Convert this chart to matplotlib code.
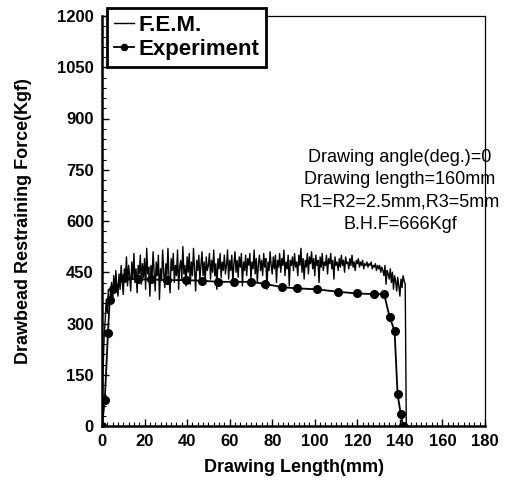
import matplotlib
matplotlib.use("Agg")
from matplotlib import pyplot as plt
from matplotlib.ticker import MultipleLocator
import numpy as np

plt.rcParams['font.family'] = ['Liberation Sans', 'DejaVu Sans']

# experiment (measured points)
exp_x = [0, 1.3, 2.8, 3.6, 5.0, 10.4, 17.1, 23.1, 30.7, 39.7, 47.2, 54.7, 62.2,
         69.8, 76.5, 84.8, 91.6, 101.0, 110.8, 119.7, 127.7, 132.6, 135.2,
         137.5, 138.9, 140.4, 141.5]
exp_y = [0, 76, 271, 369, 400, 432, 429, 429, 427, 427, 425, 422, 422,
         422, 416, 406, 403, 400, 393, 388, 386, 386, 318,
         279, 94, 35, 0]

# F.E.M. result, read every 0.5 mm
fem_y = [
    0, 160, 260, 310, 370, 330, 400, 350, 380, 420, 360, 440, 390, 455, 410, 380, 445, 400, 470, 420,
    385, 460, 430, 495, 410, 470, 440, 395, 480, 430, 505, 420, 460, 390, 470, 445, 500, 415, 475, 435,
    490, 400, 520, 445, 465, 380, 470, 430, 510, 455, 395, 480, 440, 500, 370, 460, 425, 515, 450, 405,
    475, 440, 520, 430, 390, 490, 455, 505, 420, 470, 440, 515, 400, 465, 485, 430, 525, 445, 470, 410,
    495, 450, 505, 415, 480, 440, 520, 460, 395, 485, 455, 500, 430, 470, 510, 440, 480, 420, 495, 455,
    470, 505, 430, 485, 450, 515, 440, 475, 400, 490, 460, 505, 435, 480, 455, 500, 445, 470, 515, 430,
    485, 455, 500, 420, 475, 510, 450, 485, 435, 495, 465, 505, 410, 480, 455, 500, 440, 490, 470, 505,
    430, 480, 460, 515, 445, 490, 420, 475, 500, 455, 485, 440, 505, 465, 490, 400, 480, 455, 510, 470,
    445, 495, 460, 500, 420, 485, 465, 505, 450, 490, 470, 515, 440, 480, 460, 500, 410, 485, 470, 495,
    455, 505, 465, 480, 440, 500, 470, 520, 450, 490, 430, 485, 465, 505, 445, 495, 475, 510, 460, 490,
    440, 500, 470, 485, 420, 495, 465, 505, 455, 480, 470, 500, 445, 490, 475, 505, 460, 485, 430, 495,
    470, 480, 455, 490, 465, 500, 470, 485, 450, 495, 475, 480, 460, 490, 470, 500, 465, 480, 455, 485,
    475, 490, 465, 480, 470, 485, 460, 475, 470, 480, 465, 475, 470, 480, 460, 470, 465, 475, 455, 470,
    460, 470, 450, 465, 455, 440, 470, 415, 455, 445, 430, 460, 420, 450, 400, 440, 425, 395, 435, 410,
    380, 430, 405, 440, 425, 415, 10, 0, 0,
]
fem_x = np.arange(len(fem_y)) * 0.5

x_ticks = [0, 20, 40, 60, 80, 100, 120, 140, 160, 180]
y_ticks = [0, 150, 300, 450, 600, 750, 900, 1050, 1200]

info = ("Drawing angle(deg.)=0\nDrawing length=160mm\n"
        "R1=R2=2.5mm,R3=5mm\nB.H.F=666Kgf")

fig = plt.figure(figsize=(5.25, 4.97), dpi=100)
ax = fig.add_axes([102/525, 1-426/497, (485-102)/525, (426-16)/497])

ax.plot(fem_x, fem_y, color='black', lw=1.0, label='F.E.M.')
ax.plot(exp_x, exp_y, color='black', lw=1.3, marker='o', ms=5.5,
        label='Experiment')

ax.set_xlim(0, 180)
ax.set_ylim(0, 1200)
ax.set_xticks(x_ticks)
ax.set_yticks(y_ticks)
ax.xaxis.set_minor_locator(MultipleLocator(2.5))
ax.yaxis.set_minor_locator(MultipleLocator(30))
ax.tick_params(which='both', direction='in', top=False, right=False,
               labelsize=12, pad=6)
ax.tick_params(which='major', length=5, width=1)
ax.tick_params(which='minor', length=3, width=0.8)
for lab in ax.get_xticklabels() + ax.get_yticklabels():
    lab.set_fontweight('bold')

for s in ['left', 'bottom']:
    ax.spines[s].set_linewidth(1.8)
for s in ['top', 'right']:
    ax.spines[s].set_linewidth(0.9)

ax.set_xlabel('Drawing Length(mm)', fontsize=13, fontweight='bold', labelpad=7)
ax.set_ylabel('Drawbead Restraining Force(Kgf)', fontsize=13,
              fontweight='bold', labelpad=18)

ax.text(140, 812, info, ha='center', va='top', fontsize=13,
        linespacing=1.42)

leg = ax.legend(loc='upper left', bbox_to_anchor=(107/525, 1-8/497),
                bbox_transform=fig.transFigure, frameon=True, fancybox=False,
                handlelength=0.9, handletextpad=0.2, borderpad=0.3,
                labelspacing=0.15, borderaxespad=0, markerscale=0.8,
                prop={'size': 16, 'weight': 'bold'})
leg.get_frame().set_edgecolor('black')
leg.get_frame().set_linewidth(2)
leg.get_frame().set_alpha(1)

fig.savefig('out.png', dpi=100)
